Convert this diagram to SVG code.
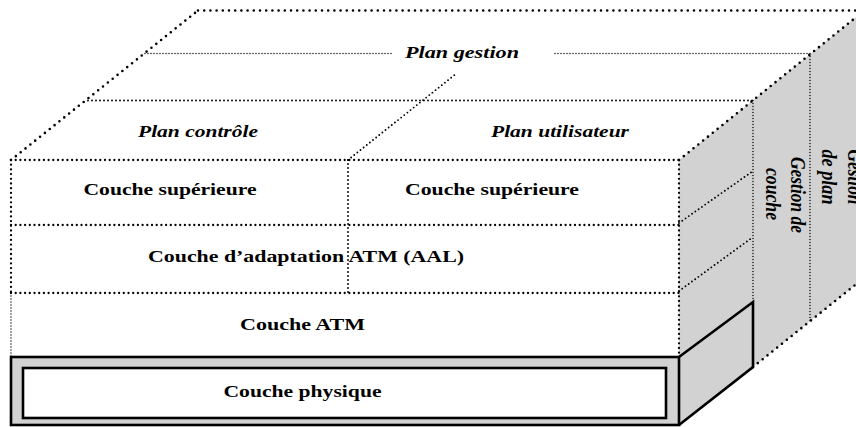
<svg xmlns="http://www.w3.org/2000/svg" width="856" height="427" viewBox="0 0 856 427">
  <style>
    .bg { fill: #ffffff; }
    .shade { fill: #d2d2d2; stroke: none; }
    .solid { fill: none; stroke: #000; stroke-width: 2.6; stroke-linejoin: miter; }
    .dotB { fill: none; stroke: #000; stroke-width: 2.3; stroke-linecap: round; stroke-dasharray: 0 4.7; }
    .dotL { fill: none; stroke: #000; stroke-width: 2.6; stroke-linecap: round; stroke-dasharray: 0 6.2; }
    .dotM { fill: none; stroke: #000; stroke-width: 1.9; stroke-linecap: round; stroke-dasharray: 0 4; }
    .dotF { fill: none; stroke: #000; stroke-width: 1.4; stroke-linecap: round; stroke-dasharray: 0 3; }
    .lbl { font-family: "Liberation Serif", "Times New Roman", serif; font-size: 16px; font-weight: bold; fill: #000; text-anchor: middle; }
    .it { font-style: italic; }
  </style>

  <rect class="bg" x="0" y="0" width="856" height="427"/>

  <!-- side face of the cube (management planes) -->
  <g id="side-face">
    <polygon class="shade" points="679,160 865,10 865,277 753,367 679,425"/>
  </g>

  <!-- physical layer: framed band along the bottom -->
  <g id="couche-physique">
    <rect x="11" y="357" width="668" height="68" fill="#d2d2d2" stroke="#000" stroke-width="2.6"/>
    <rect x="23" y="368" width="643" height="50" fill="#fff" stroke="#000" stroke-width="2.6"/>
    <path class="solid" d="M679,357 L753,302 L753,367 L679,425"/>
    <text class="lbl" x="302.5" y="397" textLength="158" lengthAdjust="spacingAndGlyphs">Couche physique</text>
  </g>

  <!-- dotted edges of the cube -->
  <g id="edges">
    <!-- top face -->
    <line class="dotL" x1="198" y1="10.5" x2="856" y2="10.5"/>
    <line class="dotL" x1="11" y1="160" x2="198" y2="10.5"/>
    <line class="dotL" x1="679" y1="160" x2="865" y2="10"/>
    <line class="dotM" x1="88" y1="100.5" x2="753" y2="100.5"/>
    <line class="dotF" x1="145" y1="53.5" x2="394" y2="53.5"/>
    <line class="dotF" x1="555" y1="53.5" x2="810" y2="53.5"/>
    <line class="dotM" x1="348" y1="160" x2="457" y2="73"/>
    <!-- front face -->
    <line class="dotB" x1="11" y1="160" x2="679" y2="160"/>
    <line class="dotB" x1="11" y1="225" x2="679" y2="225"/>
    <line class="dotB" x1="11" y1="293" x2="679" y2="293"/>
    <line class="dotB" x1="11" y1="160" x2="11" y2="293"/>
    <line class="dotF" x1="11" y1="293" x2="11" y2="357"/>
    <line class="dotB" x1="679" y1="160" x2="679" y2="357"/>
    <line class="dotM" x1="348" y1="160" x2="348" y2="293"/>
    <!-- side face -->
    <line class="dotM" x1="679" y1="223" x2="753" y2="171"/>
    <line class="dotM" x1="679" y1="291" x2="753" y2="237"/>
    <line class="dotF" x1="753" y1="100.5" x2="753" y2="302"/>
    <line class="dotF" x1="810" y1="53.5" x2="810" y2="321"/>
    <line class="dotL" x1="753" y1="367" x2="865" y2="277"/>
  </g>

  <g id="plan-gestion">
    <text class="lbl it" x="462" y="58" textLength="114" lengthAdjust="spacingAndGlyphs">Plan gestion</text>
  </g>
  <g id="plan-controle">
    <text class="lbl it" x="198" y="137" textLength="120" lengthAdjust="spacingAndGlyphs">Plan contrôle</text>
  </g>
  <g id="plan-utilisateur">
    <text class="lbl it" x="560" y="137" textLength="138" lengthAdjust="spacingAndGlyphs">Plan utilisateur</text>
  </g>
  <g id="couche-superieure-controle">
    <text class="lbl" x="170" y="195" textLength="173" lengthAdjust="spacingAndGlyphs">Couche supérieure</text>
  </g>
  <g id="couche-superieure-utilisateur">
    <text class="lbl" x="492" y="195" textLength="174" lengthAdjust="spacingAndGlyphs">Couche supérieure</text>
  </g>
  <g id="couche-aal">
    <text class="lbl" x="306" y="262" textLength="316" lengthAdjust="spacingAndGlyphs">Couche d’adaptation ATM (AAL)</text>
  </g>
  <g id="couche-atm">
    <text class="lbl" x="302.5" y="330" textLength="125" lengthAdjust="spacingAndGlyphs">Couche ATM</text>
  </g>

  <!-- vertical labels on the side face -->
  <g id="gestion-couche">
    <text class="lbl it" transform="translate(791,195) scale(1.35,1) rotate(90)" textLength="76" lengthAdjust="spacingAndGlyphs">Gestion de</text>
    <text class="lbl it" transform="translate(766,194) scale(1.35,1) rotate(90)" textLength="52" lengthAdjust="spacingAndGlyphs">couche</text>
  </g>
  <g id="gestion-plan">
    <text class="lbl it" transform="translate(848,177) scale(1.35,1) rotate(90)" textLength="55" lengthAdjust="spacingAndGlyphs">Gestion</text>
    <text class="lbl it" transform="translate(822,177) scale(1.35,1) rotate(90)" textLength="55" lengthAdjust="spacingAndGlyphs">de plan</text>
  </g>
</svg>
